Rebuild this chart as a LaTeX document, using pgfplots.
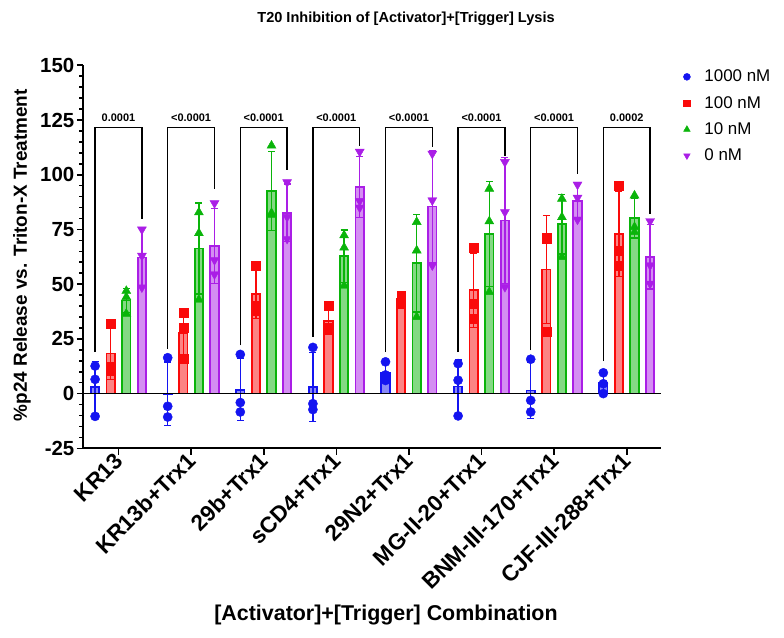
\documentclass[border=0pt]{standalone}
\usepackage{pgfplots}
\pgfplotsset{compat=1.18}
\usepackage{pgfplotstable}
\usepackage{fontspec}
\setmainfont{Liberation Sans}

\definecolor{cblue}{RGB}{20,20,240}
\definecolor{cred}{RGB}{250,10,10}
\definecolor{cgreen}{RGB}{10,180,10}
\definecolor{cpurple}{RGB}{170,30,230}

% means and SDs (x = position in px-like units)
\pgfplotstableread{
x m sd
95.1 2.9 11.9
167.7 -0.03 14.4
240.3 1.8 14.1
312.9 3.07 15.7
385.5 9.67 4.4
458.1 3.2 12.2
530.7 1.4 12.7
603.3 4.67 4.75
}\blueMean
\pgfplotstableread{
x m sd
110.7 18.33 11.9
183.3 27.67 10.7
255.9 45.5 11.3
328.5 33 6.1
401.1 43.33 2.1
473.7 47.27 17.0
546.3 56.7 24.8
618.9 73.03 19.4
}\redMean
\pgfplotstableread{
x m sd
126.3 42.5 5.4
198.9 66.33 20.8
271.5 92.5 18.0
344.1 62.77 12.0
416.7 59.6 22.3
489.3 72.9 24.1
561.9 77.33 13.6
634.5 80.13 9.05
}\greenMean
\pgfplotstableread{
x m sd
141.9 62.17 13.3
214.5 67.5 17.2
287.1 82.67 13.1
359.7 94.5 13.9
432.3 85.5 25.6
504.9 79.13 28.7
577.5 88.17 8.1
650.1 62.53 14.7
}\purpleMean

% individual points
\pgfplotstableread{
x y
95.1 12.6
95.1 6.5
95.1 -10.4
167.7 16.4
167.7 -5.8
167.7 -10.7
240.3 17.9
240.3 -4.1
240.3 -8.4
312.9 21.1
312.9 -4.6
312.9 -7.3
385.5 14.5
385.5 8.5
385.5 6
458.1 13.7
458.1 6.1
458.1 -10.2
530.7 15.7
530.7 -3.1
530.7 -8.4
603.3 9.5
603.3 4.5
603.3 0
}\bluePts
\pgfplotstableread{
x y
110.7 32
110.7 12.5
110.7 10.5
183.3 37
183.3 30
183.3 16
255.9 58.5
255.9 40
255.9 38
328.5 40
328.5 30
328.5 29
401.1 45
401.1 44
401.1 41
473.7 66.5
473.7 41.1
473.7 34.2
546.3 71.2
546.3 70.8
546.3 28.1
618.9 95.1
618.9 65.4
618.9 58.6
}\redPts
\pgfplotstableread{
x y
126.3 46.9
126.3 44.1
126.3 36.5
198.9 82.8
198.9 73.3
198.9 42.9
271.5 113.3
271.5 82.5
271.5 81.7
344.1 72.3
344.1 66.7
344.1 49.3
416.7 78.4
416.7 65.4
416.7 35
489.3 93.6
489.3 78.7
489.3 46.4
561.9 89
561.9 80.6
561.9 62.4
634.5 90.5
634.5 76.1
634.5 73.8
}\greenPts
\pgfplotstableread{
x y
141.9 75
141.9 63
141.9 48.5
214.5 87
214.5 61
214.5 54.5
287.1 96.6
287.1 80.7
287.1 70.7
359.7 110.5
359.7 88
359.7 85
432.3 109.6
432.3 88.3
432.3 58.6
504.9 105.8
504.9 82.9
504.9 48.7
577.5 95.5
577.5 89.5
577.5 79.5
650.1 78.8
650.1 58.6
650.1 50.2
}\purplePts

\pgfplotsset{
  meanbar/.style={ybar, bar width=8.5, bar shift=0pt, draw=#1, fill=#1, fill opacity=0.5,
    line width=1.8bp, forget plot,
    error bars/.cd, y dir=both, y explicit,
    error bar style={line width=1.3bp, color=#1, opacity=1},
    error mark options={rotate=90, mark size=3.5bp, line width=1.3bp, color=#1}},
}

\begin{document}
\begin{tikzpicture}
\begin{axis}[
  name=ax,
  scale only axis, width=577.4bp, height=383bp,
  xmin=83.3, xmax=660.7, ymin=-25, ymax=150,
  clip=false,
  axis x line*=bottom, axis y line*=left,
  axis line style={line width=1.8bp, black},
  ytick={-25,0,25,50,75,100,125,150},
  yticklabels={-25,0,25,50,75,100,125,150},
  minor y tick num=4,
  xtick={118.5,191.1,263.7,336.3,408.9,481.5,554.1,626.7},
  xticklabels={KR13,KR13b+Trx1,29b+Trx1,sCD4+Trx1,29N2+Trx1,MG-II-20+Trx1,BNM-III-170+Trx1,CJF-III-288+Trx1},
  tick align=outside,
  major tick length=6.5bp, minor tick length=3.8bp,
  every tick/.style={line width=1.6bp, black},
  yticklabel style={font=\bfseries\fontsize{20.5}{22}\selectfont, xshift=1bp},
  xticklabel style={font=\bfseries\fontsize{22.5}{24}\selectfont, rotate=45, anchor=east, xshift=2bp, yshift=-2bp},
  legend style={draw=none, fill=none, at={(1.039,0.993)}, anchor=north west,
    font=\fontsize{17}{19}\selectfont, row sep=9bp, inner sep=0pt},
  legend cell align=left,
]
\addlegendimage{only marks, mark=*, cblue, mark size=3.5bp}
\addlegendentry{\hspace{12bp}1000 nM}
\addlegendimage{only marks, mark=square*, cred, mark size=3.3bp}
\addlegendentry{\hspace{12bp}100 nM}
\addlegendimage{only marks, mark=triangle*, cgreen, mark size=3.8bp}
\addlegendentry{\hspace{12bp}10 nM}
\addlegendimage{only marks, mark=triangle*, cpurple, mark size=3.8bp, mark options={rotate=180}}
\addlegendentry{\hspace{12bp}0 nM}

% points (drawn first, bars with translucent fill over them)
\addplot[only marks, mark=*, cblue, mark size=4.6bp, forget plot] table[x=x,y=y]{\bluePts};
\addplot[only marks, mark=square*, cred, mark size=4.4bp, forget plot] table[x=x,y=y]{\redPts};
\addplot[only marks, mark=triangle*, cgreen, mark size=5.2bp, forget plot] table[x=x,y=y]{\greenPts};
\addplot[only marks, mark=triangle*, cpurple, mark size=5.2bp, mark options={rotate=180}, forget plot] table[x=x,y=y]{\purplePts};

% bars with mean +/- SD
\addplot[meanbar=cblue] table[x=x,y=m,y error=sd]{\blueMean};
\addplot[meanbar=cred] table[x=x,y=m,y error=sd]{\redMean};
\addplot[meanbar=cgreen] table[x=x,y=m,y error=sd]{\greenMean};
\addplot[meanbar=cpurple] table[x=x,y=m,y error=sd]{\purpleMean};

% zero line
\addplot[black, line width=1.8bp, forget plot] coordinates {(83.3,0) (660.7,0)};

% significance brackets
\addplot[black, line width=1.3bp, forget plot] coordinates {(95.1,19) (95.1,121.7) (141.9,121.7) (141.9,79.9)};
\addplot[black, line width=1.3bp, forget plot] coordinates {(167.7,20.5) (167.7,121.7) (214.5,121.7) (214.5,93.6)};
\addplot[black, line width=1.3bp, forget plot] coordinates {(240.3,22) (240.3,121.7) (287.1,121.7) (287.1,102)};
\addplot[black, line width=1.3bp, forget plot] coordinates {(312.9,25.9) (312.9,121.7) (359.7,121.7) (359.7,113)};
\addplot[black, line width=1.3bp, forget plot] coordinates {(385.5,19) (385.5,121.7) (432.3,121.7) (432.3,112.6)};
\addplot[black, line width=1.3bp, forget plot] coordinates {(458.1,19) (458.1,121.7) (504.9,121.7) (504.9,108.5)};
\addplot[black, line width=1.3bp, forget plot] coordinates {(530.7,19.8) (530.7,121.7) (577.5,121.7) (577.5,100.5)};
\addplot[black, line width=1.3bp, forget plot] coordinates {(603.3,14.8) (603.3,121.7) (650.1,121.7) (650.1,81.9)};

\begin{scope}[every node/.style={font=\bfseries\fontsize{11}{13}\selectfont, anchor=base}]
\node at (axis cs:118.5,124.5) {0.0001};
\node at (axis cs:191.1,124.5) {<0.0001};
\node at (axis cs:263.7,124.5) {<0.0001};
\node at (axis cs:336.3,124.5) {<0.0001};
\node at (axis cs:408.9,124.5) {<0.0001};
\node at (axis cs:481.5,124.5) {<0.0001};
\node at (axis cs:554.1,124.5) {<0.0001};
\node at (axis cs:626.7,124.5) {0.0002};
\end{scope}

% title and axis labels
\node[font=\bfseries\fontsize{14.6}{17}\selectfont] at (axis cs:406,171.4) {T20 Inhibition of [Activator]+[Trigger] Lysis};
\node[font=\bfseries\fontsize{21.5}{24}\selectfont] at (axis cs:386,-101.2) {[Activator]+[Trigger] Combination};
\node[font=\bfseries\fontsize{19}{22}\selectfont, rotate=90] at (axis cs:22,63.2) {\%p24 Release vs. Triton-X Treatment};
\end{axis}
\pgfresetboundingbox
\path[use as bounding box] ([shift={(-83.3bp,-189.7bp)}]ax.south west) rectangle ([shift={(700.7bp,448.3bp)}]ax.south west);
\end{tikzpicture}
\end{document}
